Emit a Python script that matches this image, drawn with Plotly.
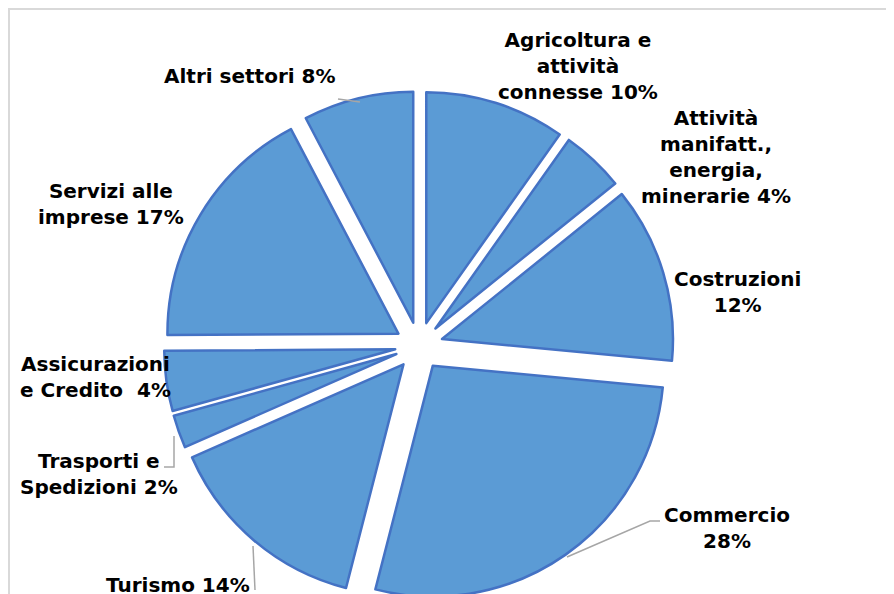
import plotly.graph_objects as go

# ---- data ----
sectors = [
    "Agricoltura e attività connesse",
    "Attività manifatt., energia, minerarie",
    "Costruzioni",
    "Commercio",
    "Turismo",
    "Trasporti e Spedizioni",
    "Assicurazioni e Credito",
    "Servizi alle imprese",
    "Altri settori",
]
# shares
shares = [9.8, 4.4, 12.3, 27.5, 14.4, 2.3, 4.2, 17.4, 7.7]
# label texts as printed on the chart
label_texts = [
    "Agricoltura e<br>attività<br>connesse 10%",
    "Attività<br>manifatt.,<br>energia,<br>minerarie 4%",
    "Costruzioni<br>12%",
    "Commercio<br>28%",
    "Turismo 14%",
    "Trasporti e<br>Spedizioni 2%",
    "Assicurazioni<br>e Credito  4%",
    "Servizi alle<br>imprese 17%",
    "Altri settori 8%",
]

# ---- layout geometry (page pixels) ----
W, H = 900, 640          # figure size (larger than viewport, cropped like reference)
OFF = 8                  # body margin of the html page

def px(x):
    return (x - OFF) / W

def py(y):
    return 1 - (y - OFF) / H

label_pos = [
    (578, 66), (716, 157), (737, 292), (727, 528), (178, 585),
    (99, 474), (95, 377), (111, 204), (250, 76),
]

leaders = [
    [(338, 99), (360, 102)],
    [(174, 436), (174, 467), (164, 467)],
    [(253, 546), (255, 590)],
    [(567, 557), (650, 521), (660, 521)],
]

cx, cy, half = 419, 346, 255

fig = go.Figure(go.Pie(
    labels=sectors,
    values=shares,
    sort=False,
    direction="clockwise",
    rotation=0,
    pull=0.104,
    textinfo="none",
    hoverinfo="label+percent",
    marker=dict(colors=["#5B9BD5"] * len(shares),
                line=dict(color="#4472C4", width=2.5)),
    domain=dict(x=[px(cx - half), px(cx + half)], y=[py(cy + half), py(cy - half)]),
    showlegend=False,
))

annotations = []
for txt, (x, y) in zip(label_texts, label_pos):
    annotations.append(dict(
        text="<b>" + txt + "</b>", x=px(x), y=py(y), xref="paper", yref="paper",
        xanchor="center", yanchor="middle", showarrow=False, align="center",
        font=dict(family="DejaVu Sans", size=20, color="#000000"),
    ))

shapes = [dict(type="rect", xref="paper", yref="paper",
               x0=px(OFF + 1), y0=0, x1=1, y1=py(OFF + 1),
               line=dict(color="#D9D9D9", width=2))]
for pts in leaders:
    path = "M " + " L ".join(f"{px(x)},{py(y)}" for x, y in pts)
    shapes.append(dict(type="path", xref="paper", yref="paper", path=path,
                       line=dict(color="#A6A6A6", width=1.5)))

fig.update_layout(
    width=W, height=H,
    margin=dict(l=0, r=0, t=0, b=0),
    paper_bgcolor="white", plot_bgcolor="white",
    annotations=annotations, shapes=shapes,
)

fig.write_html("out.html",
               post_script="document.documentElement.style.overflow='hidden';document.body.style.overflow='hidden';")
